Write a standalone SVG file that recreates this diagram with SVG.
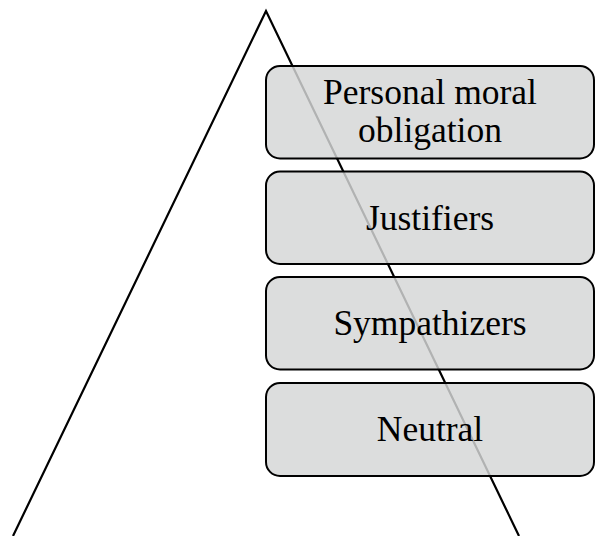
<svg xmlns="http://www.w3.org/2000/svg" width="596" height="536" viewBox="0 0 596 536">
<style>
.box{fill:#d5d6d6;fill-opacity:0.83;stroke:#000;stroke-width:2}
.lbl{font-family:"Liberation Serif","Times New Roman",serif;font-size:35.5px;fill:#000;text-anchor:middle}
</style>
<rect width="596" height="536" fill="#fff"/>
<g id="connectors">
<polyline points="13,536 266,11 519,536" fill="none" stroke="#000" stroke-width="2.2"/>
</g>
<g id="node1"><rect class="box" x="266" y="66" width="328" height="92.5" rx="14"/><text class="lbl" x="430" y="104">Personal moral</text><text class="lbl" x="430" y="141.5">obligation</text></g>
<g id="node2"><rect class="box" x="266" y="171.5" width="328" height="92.5" rx="14"/><text class="lbl" x="430" y="229.5">Justifiers</text></g>
<g id="node3"><rect class="box" x="266" y="277" width="328" height="92.5" rx="14"/><text class="lbl" x="430" y="335">Sympathizers</text></g>
<g id="node4"><rect class="box" x="266" y="383" width="328" height="93" rx="14"/><text class="lbl" x="430" y="441">Neutral</text></g>
</svg>
